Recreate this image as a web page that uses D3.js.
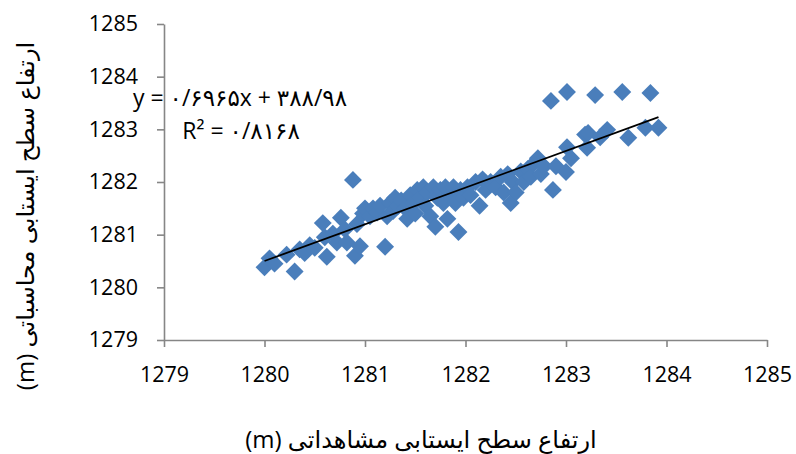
<!DOCTYPE html>
<html>
<head>
<meta charset="utf-8">
<script src="https://cdn.jsdelivr.net/npm/d3@7"></script>
<style>
  body { margin: 0; background: #fff; }
  svg { display: block; }
</style>
</head>
<body>
<svg id="chart"></svg>
<script>
// observed (x) and computed (y) water table heights
var obsX = [1280.00,1280.05,1280.10,1280.22,1280.30,1280.35,1280.40,1280.45,1280.50,1280.58,
  1280.60,1280.62,1280.68,1280.72,1280.76,1280.80,1280.82,1280.88,1280.90,1280.92,
  1280.95,1280.98,1281.00,1281.05,1281.08,1281.12,1281.15,1281.20,1281.22,1281.25,
  1281.28,1281.30,1281.33,1281.36,1281.40,1281.42,1281.45,1281.48,1281.50,1281.52,
  1281.55,1281.58,1281.60,1281.62,1281.65,1281.68,1281.70,1281.72,1281.75,1281.78,
  1281.80,1281.82,1281.85,1281.88,1281.90,1281.93,1281.95,1281.98,1282.02,1282.05,
  1282.10,1282.14,1282.17,1282.20,1282.25,1282.30,1282.35,1282.38,1282.42,1282.45,
  1282.47,1282.50,1282.55,1282.58,1282.62,1282.65,1282.68,1282.72,1282.75,1282.78,
  1282.85,1282.87,1282.90,1283.00,1283.01,1283.01,1283.05,1283.19,1283.21,1283.22,
  1283.29,1283.34,1283.41,1283.56,1283.62,1283.79,1283.84,1283.92];
var calcY = [1280.38,1280.55,1280.45,1280.62,1280.30,1280.72,1280.65,1280.80,1280.75,1281.22,
  1280.95,1280.58,1281.02,1280.85,1281.32,1281.10,1280.85,1282.04,1280.60,1281.20,
  1280.78,1281.40,1281.50,1281.35,1281.50,1281.42,1281.55,1280.77,1281.35,1281.60,
  1281.45,1281.70,1281.55,1281.65,1281.50,1281.30,1281.75,1281.60,1281.40,1281.85,
  1281.70,1281.90,1281.55,1281.80,1281.35,1281.90,1281.15,1281.70,1281.85,1281.60,
  1281.90,1281.30,1281.75,1281.90,1281.60,1281.05,1281.85,1281.70,1281.90,1281.75,
  1282.00,1281.55,1282.05,1281.85,1282.00,1281.90,1282.10,1281.80,1282.15,1281.60,
  1282.00,1281.80,1282.20,1282.00,1282.25,1282.10,1282.35,1282.45,1282.15,1282.30,
  1283.54,1281.85,1282.30,1282.19,1282.66,1283.71,1282.45,1282.90,1282.65,1282.93,
  1283.65,1282.85,1282.99,1283.71,1282.84,1283.03,1283.69,1283.03];

var tickVals = [1279, 1280, 1281, 1282, 1283, 1284, 1285];
var slope = 0.6965, intercept = 388.98;
var eqText = "y = ۰/۶۹۶۵x + ۳۸۸/۹۸";
var r2Text = "R² = ۰/۸۱۶۸";
var xTitle = "ارتفاع سطح ایستابی مشاهداتی (m)";
var yTitle = "ارتفاع سطح ایستابی محاسباتی (m)";

var W = 796, H = 454;
var margin = {top: 24, right: 29, bottom: 114, left: 164},
    width = W - margin.left - margin.right,
    height = H - margin.top - margin.bottom;

var svg = d3.select("#chart").attr("width", W).attr("height", H);
var font = "'Open Sans', Lato, 'DejaVu Sans', sans-serif";

var x = d3.scaleLinear().domain([1279, 1285]).range([0, width]);
var y = d3.scaleLinear().domain([1279, 1285]).range([height, 0]);

var g = svg.append("g")
  .attr("transform", "translate(" + margin.left + "," + margin.top + ")");

var xAxis = g.append("g")
  .attr("transform", "translate(0," + height + ")")
  .call(d3.axisBottom(x).tickValues(tickVals).tickFormat(d3.format("d"))
    .tickSize(7).tickSizeOuter(0).tickPadding(20));
var yAxis = g.append("g")
  .call(d3.axisLeft(y).tickValues(tickVals).tickFormat(d3.format("d"))
    .tickSize(7).tickSizeOuter(0).tickPadding(19));

[xAxis, yAxis].forEach(function(a) {
  a.select(".domain").attr("stroke", "#868686").attr("stroke-width", 1.6);
  a.selectAll(".tick line").attr("stroke", "#868686").attr("stroke-width", 1.6);
  a.selectAll(".tick text").attr("font-family", font).attr("font-size", "21.5px").attr("fill", "#000");
});

// points
var pts = obsX.map(function(v, i) { return [v, calcY[i]]; });
var diamond = d3.symbol().type(d3.symbolSquare).size(160);
g.append("g").selectAll("path")
  .data(pts)
  .enter().append("path")
  .attr("d", diamond)
  .attr("transform", function(d) { return "translate(" + x(d[0]) + "," + y(d[1]) + ") rotate(45)"; })
  .attr("fill", "#4a7ebb");

// trend line
var xmin = d3.min(obsX), xmax = d3.max(obsX);
g.append("line")
  .attr("x1", x(xmin)).attr("y1", y(slope * xmin + intercept))
  .attr("x2", x(xmax)).attr("y2", y(slope * xmax + intercept))
  .attr("stroke", "#000").attr("stroke-width", 1.8);

// equation
svg.append("text")
  .text(eqText)
  .attr("x", 240).attr("y", 106)
  .attr("text-anchor", "middle")
  .attr("direction", "ltr")
  .attr("font-family", font).attr("font-size", "23px");
svg.append("text")
  .text(r2Text)
  .attr("x", 241).attr("y", 139)
  .attr("text-anchor", "middle")
  .attr("direction", "ltr")
  .attr("font-family", font).attr("font-size", "23px");

// titles
svg.append("text")
  .text(xTitle)
  .attr("x", 421).attr("y", 448)
  .attr("text-anchor", "middle")
  .attr("direction", "rtl")
  .attr("font-family", font).attr("font-size", "24px");
svg.append("text")
  .text(yTitle)
  .attr("transform", "translate(34,216) rotate(-90)")
  .attr("text-anchor", "middle")
  .attr("direction", "rtl")
  .attr("font-family", font).attr("font-size", "24px");
</script>
</body>
</html>
